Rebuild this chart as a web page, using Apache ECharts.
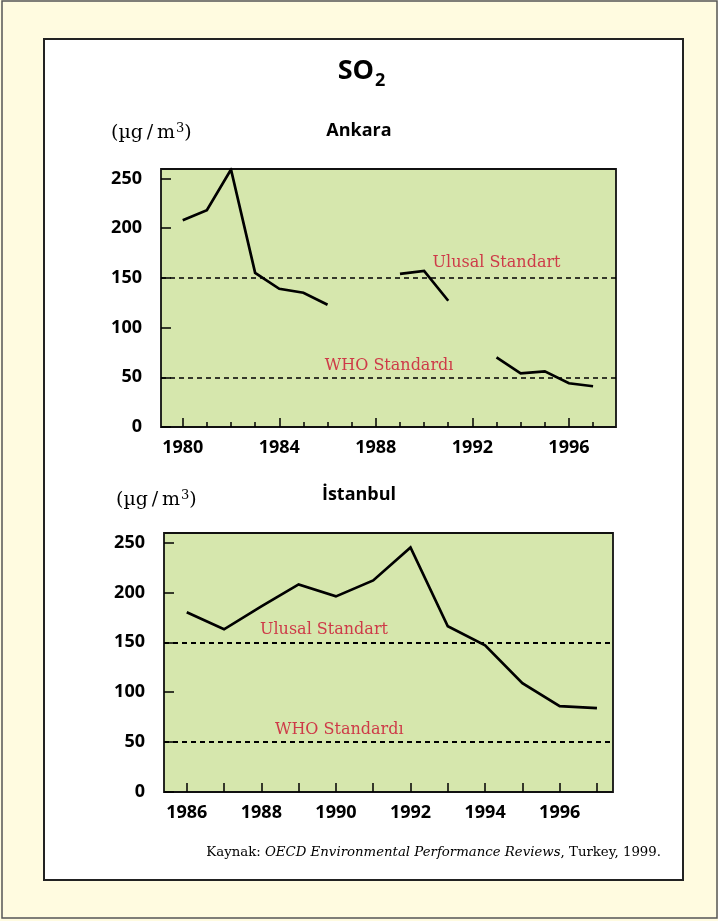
<!DOCTYPE html>
<html>
<head>
<meta charset="utf-8">
<script src="https://cdn.jsdelivr.net/npm/echarts@6/dist/echarts.min.js"></script>
<style>
  html, body { margin: 0; padding: 0; background: #fffbe0; }
  #chart { width: 718px; height: 921px; }
</style>
</head>
<body>
<div id="chart"></div>
<script>
// Annual mean SO2 concentrations, µg/m³
const ankaraYears = [1980, 1981, 1982, 1983, 1984, 1985, 1986, 1987, 1988, 1989, 1990, 1991, 1992, 1993, 1994, 1995, 1996, 1997];
const ankaraValues = [208, 218, 259, 155, 139, 135, 123, null, null, 154, 157, 127, null, 70, 54, 56, 44, 41];

const istanbulYears = [1986, 1987, 1988, 1989, 1990, 1991, 1992, 1993, 1994, 1995, 1996, 1997];
const istanbulValues = [180, 163, 186, 208, 196, 212, 245, 166, 147, 109, 86, 84];

// Reference limits drawn as dashed lines
const standardNames = ['Ulusal Standart', 'WHO Standardı'];
const standardValues = [150, 50];

// Tick labels
const yTickValues = [0, 50, 100, 150, 200, 250];
const ankaraLabelYears = [1980, 1984, 1988, 1992, 1996];
const istanbulLabelYears = [1986, 1988, 1990, 1992, 1994, 1996];

const SANS = '"Open Sans", "DejaVu Sans", sans-serif';
const SERIF = '"DejaVu Serif", "Liberation Serif", serif';
const RED = '#cc0f2e';
const GREEN = '#d6e7ad';

const chart = echarts.init(document.getElementById('chart'), null, { renderer: 'canvas' });

const tickLine = { color: '#000', width: 1.5 };
const labelFont = { fontFamily: SANS, fontSize: 18, fontWeight: 'bold', color: '#000' };

function xAxes(gridIndex, min, max, labelYears, allYears, majorLen, minorLen) {
  return [
    {
      gridIndex, type: 'value', position: 'bottom', min, max,
      axisLine: { show: false }, splitLine: { show: false },
      axisTick: { inside: true, length: majorLen, lineStyle: tickLine, customValues: labelYears },
      axisLabel: Object.assign({ customValues: labelYears, margin: 12, formatter: v => String(v) }, labelFont)
    },
    {
      gridIndex, type: 'value', position: 'bottom', min, max,
      axisLine: { show: false }, splitLine: { show: false },
      axisTick: { inside: true, length: minorLen, lineStyle: tickLine, customValues: allYears },
      axisLabel: { show: false }
    }
  ];
}

function yAxis(gridIndex, max) {
  return {
    gridIndex, type: 'value', min: 0, max,
    axisLine: { show: false }, splitLine: { show: false },
    axisTick: { inside: true, length: 10, lineStyle: tickLine, customValues: yTickValues },
    axisLabel: Object.assign({ customValues: yTickValues, margin: 19, formatter: v => String(v) }, labelFont)
  };
}

function dataSeries(xAxisIndex, yAxisIndex, years, values, dashWidth) {
  return {
    type: 'line', xAxisIndex, yAxisIndex,
    data: years.map((y, i) => [y, values[i] == null ? '-' : values[i]]),
    symbol: 'none', connectNulls: false, silent: true, z: 4,
    lineStyle: { color: '#000', width: 2.7, join: 'miter' },
    markLine: {
      silent: true, symbol: 'none', label: { show: false },
      lineStyle: { color: '#000', width: dashWidth, type: [5, 4] },
      data: standardValues.map(v => ({ yAxis: v }))
    }
  };
}

// Captions for the two limit lines, placed in data coordinates
function captionSeries(xAxisIndex, yAxisIndex, spots) {
  return {
    type: 'scatter', xAxisIndex, yAxisIndex, silent: true, z: 6,
    symbolSize: 0,
    data: standardNames.map((n, i) => ({ name: n, value: spots[i] })),
    label: {
      show: true, position: 'inside', formatter: '{b}',
      color: RED, fontFamily: SERIF, fontSize: 16
    }
  };
}

// Unit caption with a raised "3"
function unitText(x, y) {
  return {
    type: 'text', z: 100, x, y,
    style: {
      text: '{b|(µg\u2009/\u2009m}{s|3}{b|)}',
      fill: '#000', textAlign: 'left', textVerticalAlign: 'middle',
      rich: {
        b: { fontFamily: SERIF, fontSize: 19, lineHeight: 22, verticalAlign: 'bottom' },
        s: { fontFamily: SERIF, fontSize: 13, lineHeight: 22, verticalAlign: 'top', padding: [1, 0, 0, 1] }
      }
    }
  };
}

const option = {
  animation: false,
  backgroundColor: '#fffbe0',
  graphic: [
    { type: 'rect', z: -20, shape: { x: 2, y: 1, width: 715, height: 917 },
      style: { fill: '#fffbe0', stroke: '#555', lineWidth: 1.5 } },
    { type: 'rect', z: -10, shape: { x: 44, y: 39, width: 639, height: 841 },
      style: { fill: '#fff', stroke: '#222', lineWidth: 2 } },
    { type: 'text', z: 100, x: 374, y: 71,
      style: { text: 'SO', font: 'bold 27px ' + SANS, fill: '#000', textAlign: 'right', textVerticalAlign: 'middle' } },
    { type: 'text', z: 100, x: 375, y: 81,
      style: { text: '2', font: 'bold 18px ' + SANS, fill: '#000', textAlign: 'left', textVerticalAlign: 'middle' } },
    unitText(111, 132),
    { type: 'text', z: 100, x: 359, y: 131,
      style: { text: 'Ankara', font: 'bold 18px ' + SANS, fill: '#000', textAlign: 'center', textVerticalAlign: 'middle' } },
    unitText(116, 499),
    { type: 'text', z: 100, x: 359, y: 495,
      style: { text: 'İstanbul', font: 'bold 18px ' + SANS, fill: '#000', textAlign: 'center', textVerticalAlign: 'middle' } },
    { type: 'text', z: 100, x: 661, y: 853,
      style: {
        text: 'Kaynak: {i|OECD Environmental Performance Reviews}, Turkey, 1999.',
        font: '13.3px ' + SERIF, fill: '#000', textAlign: 'right', textVerticalAlign: 'middle',
        rich: { i: { fontStyle: 'italic', fontFamily: SERIF, fontSize: 13.3 } }
      } }
  ],
  grid: [
    { left: 161, top: 169, width: 455, height: 258, show: true,
      backgroundColor: GREEN, borderColor: '#111', borderWidth: 1.8 },
    { left: 164, top: 533, width: 449, height: 259, show: true,
      backgroundColor: GREEN, borderColor: '#111', borderWidth: 1.8 }
  ],
  xAxis: [
    ...xAxes(0, 1979.1, 1997.95, ankaraLabelYears, ankaraYears, 9, 5),
    ...xAxes(1, 1985.39, 1997.43, istanbulLabelYears, istanbulYears, 9, 9)
  ],
  yAxis: [yAxis(0, 259.5), yAxis(1, 259.5)],
  series: [
    dataSeries(0, 0, ankaraYears, ankaraValues, 1.5),
    captionSeries(0, 0, [[1993.0, 165], [1988.55, 62]]),
    dataSeries(2, 1, istanbulYears, istanbulValues, 2),
    captionSeries(2, 1, [[1989.68, 162], [1990.09, 62]])
  ]
};

chart.setOption(option);
</script>
</body>
</html>
